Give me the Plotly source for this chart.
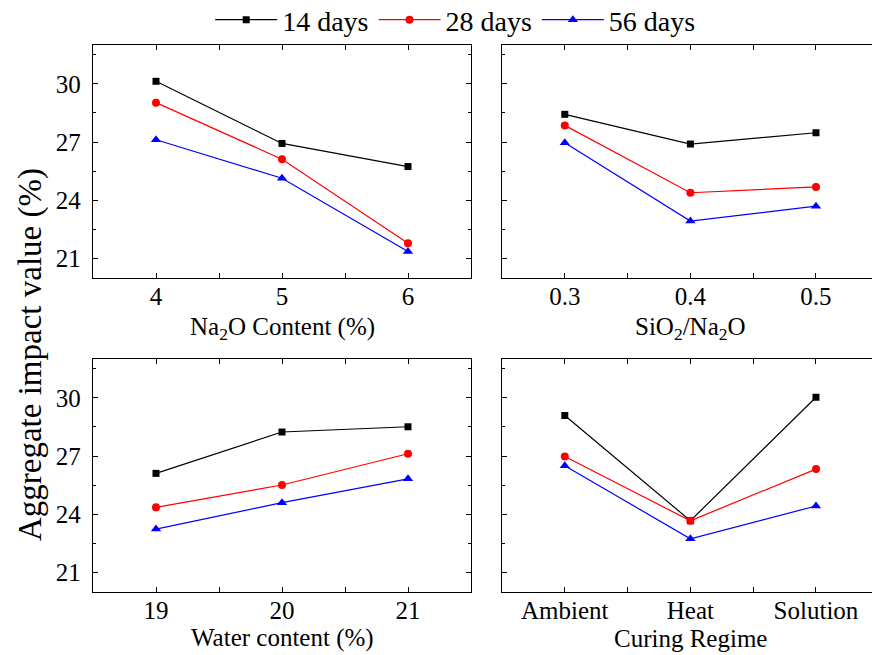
import plotly.graph_objects as go

# ---- data ----
series_names = ["14 days", "28 days", "56 days"]

na2o_content = [4, 5, 6]
na2o_14 = [30.13, 26.93, 25.74]
na2o_28 = [29.03, 26.12, 21.79]
na2o_56 = [27.12, 25.14, 21.36]

sio2_ratio = [0.3, 0.4, 0.5]
sio2_14 = [28.43, 26.90, 27.48]
sio2_28 = [27.86, 24.39, 24.69]
sio2_56 = [26.96, 22.93, 23.70]

water_content = [19, 20, 21]
water_14 = [26.11, 28.24, 28.51]
water_28 = [24.36, 25.51, 27.12]
water_56 = [23.24, 24.60, 25.83]

curing_regime = ["Ambient", "Heat", "Solution"]
curing_14 = [29.09, 23.67, 30.03]
curing_28 = [26.98, 23.67, 26.33]
curing_56 = [26.50, 22.74, 24.43]

y_ticks = [21, 24, 27, 30]

# ---- styles ----
colors = ["black", "red", "blue"]
symbols = ["square", "circle", "triangle-up"]
msizes = [7, 8, 9]
FONT = "Liberation Serif"

fig = go.Figure()

curing_idx = list(range(len(curing_regime)))
panels = [
    (na2o_content, [na2o_14, na2o_28, na2o_56], "x", "y"),
    (sio2_ratio, [sio2_14, sio2_28, sio2_56], "x2", "y2"),
    (water_content, [water_14, water_28, water_56], "x3", "y3"),
    (curing_idx, [curing_14, curing_28, curing_56], "x4", "y4"),
]

for p, (xs, ys_list, xa, ya) in enumerate(panels):
    for i, ys in enumerate(ys_list):
        fig.add_trace(go.Scatter(
            x=xs, y=ys, mode="lines+markers", xaxis=xa, yaxis=ya,
            name=series_names[i], showlegend=(p == 0),
            line=dict(color=colors[i], width=1.2),
            marker=dict(symbol=symbols[i], size=msizes[i], color=colors[i]),
            cliponaxis=False,
        ))

W, H = 872, 655
def fx(px):
    return px / W
def fy(py):
    return (H - py) / H

left_dom = [fx(93), fx(471)]
right_dom = [fx(502), 1.0]
top_dom = [fy(278), fy(45)]
bot_dom = [fy(592), fy(359)]

tickfont = dict(family=FONT, size=25, color="black")

def xax(dom, anchor, rng, tickvals, ticktext, minor_dtick, minor_tick0, mirror="allticks"):
    return dict(
        domain=dom, anchor=anchor, range=rng,
        tickmode="array", tickvals=tickvals, ticktext=ticktext,
        ticks="inside", ticklen=5, tickwidth=1.2, tickcolor="black",
        minor=dict(ticks="inside", ticklen=5, tickwidth=1.2, tickcolor="black",
                   dtick=minor_dtick, tick0=minor_tick0, showgrid=False),
        showline=True, linecolor="black", linewidth=1.3, mirror=mirror,
        showgrid=False, zeroline=False, tickfont=tickfont,
        ticklabelstandoff=-4, automargin=False,
    )

def yax(dom, anchor, showlabels, mirror):
    return dict(
        domain=dom, anchor=anchor, range=[20, 32],
        tickmode="array", tickvals=y_ticks,
        ticks="inside", ticklen=5, tickwidth=1.2, tickcolor="black",
        minor=dict(ticks="inside", ticklen=3, tickwidth=1.2, tickcolor="black",
                   dtick=1.5, tick0=19.5, showgrid=False),
        showline=True, linecolor="black", linewidth=1.3, mirror=mirror,
        showgrid=False, zeroline=False, showticklabels=showlabels,
        tickfont=tickfont, ticklabelstandoff=6, automargin=False,
    )

fig.update_layout(
    width=W, height=H,
    margin=dict(l=0, r=0, t=0, b=0, autoexpand=False),
    paper_bgcolor="white", plot_bgcolor="white",
    font=dict(family=FONT, color="black"),
    xaxis=xax(left_dom, "y", [3.5, 6.5], na2o_content, [str(v) for v in na2o_content], 0.5, 3.5),
    yaxis=yax(top_dom, "x", True, "allticks"),
    xaxis2=xax(right_dom, "y2", [0.25, 0.5446], sio2_ratio, [str(v) for v in sio2_ratio], 0.05, 0.25),
    yaxis2=yax(top_dom, "x2", False, False),
    xaxis3=xax(left_dom, "y3", [18.5, 21.5], water_content, [str(v) for v in water_content], 0.5, 18.5),
    yaxis3=yax(bot_dom, "x3", True, "allticks"),
    xaxis4=xax(right_dom, "y4", [-0.5, 2.446], curing_idx, curing_regime, 0.5, -0.5),
    yaxis4=yax(bot_dom, "x4", False, False),
    legend=dict(
        orientation="h", x=0.522, xanchor="center",
        yref="container", y=fy(20), yanchor="middle",
        font=dict(family=FONT, size=28, color="black"),
        bgcolor="rgba(0,0,0,0)", itemwidth=62, tracegroupgap=0,
    ),
)

titlefont = dict(family=FONT, size=25, color="black")
annos = [
    ("Na<sub>2</sub>O Content (%)", fx(282), fy(328)),
    ("SiO<sub>2</sub>/Na<sub>2</sub>O", fx(690), fy(328)),
    ("Water content (%)", fx(282), fy(638)),
    ("Curing Regime", fx(690), fy(638)),
]
for text, x, y in annos:
    fig.add_annotation(text=text, x=x, y=y, xref="paper", yref="paper",
                       xanchor="center", yanchor="middle", showarrow=False,
                       font=titlefont)

fig.add_annotation(text="Aggregate impact value (%)", x=fx(30), y=fy(355),
                   xref="paper", yref="paper", xanchor="center", yanchor="middle",
                   showarrow=False, textangle=-90,
                   font=dict(family=FONT, size=33, color="black"))

fig.write_html("out.html", config={"displayModeBar": False},
               post_script="document.body.style.margin='0';document.body.style.overflow='hidden';")
